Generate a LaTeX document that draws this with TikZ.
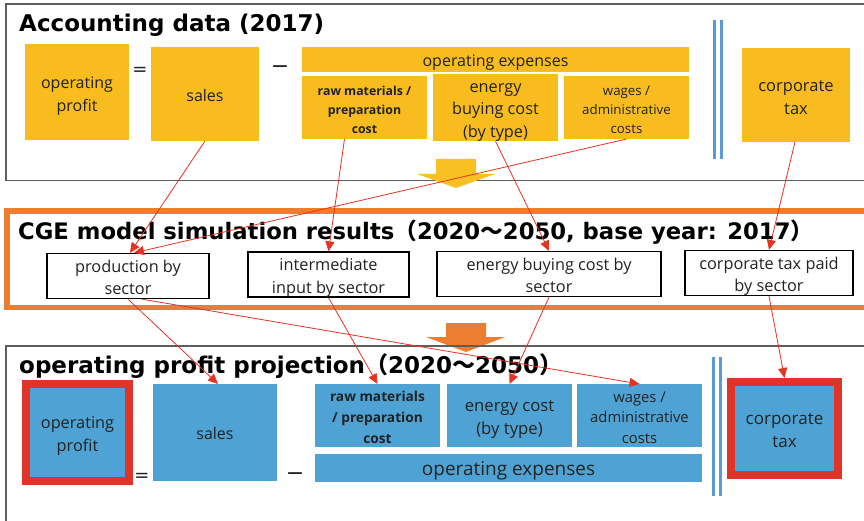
\documentclass[tikz,border=0pt]{standalone}
\usepackage{fontspec}
\setmainfont{Open Sans}
\newfontfamily\titlefont{DejaVu Sans}
\newfontfamily\cjk{Noto Sans CJK JP}
\usetikzlibrary{arrows.meta,calc}
\definecolor{ylw}{HTML}{F8BC1E}
\definecolor{ylwarrow}{HTML}{F9C021}
\definecolor{bl}{HTML}{4FA3D4}
\definecolor{dbl}{HTML}{5B9BD5}
\definecolor{org}{HTML}{ED7D31}
\definecolor{redb}{HTML}{E03428}
\definecolor{redl}{HTML}{E53323}
\definecolor{pgray}{HTML}{5E5E5E}
\definecolor{txt}{HTML}{222222}
\newcommand{\tl}[1]{\raisebox{-3pt}[\height][\depth]{\begin{tabular}{@{}c@{}}#1\end{tabular}}}
\tikzset{
  ybox/.style={fill=ylw, inner sep=0pt, outer sep=0pt, align=center, text=txt},
  wbox/.style={draw=black, line width=1.3pt, fill=white, inner sep=0pt, align=center, text=txt},
  bbox/.style={fill=bl, inner sep=0pt, outer sep=0pt, align=center, text=txt},
  rbox/.style={fill=bl, draw=redb, line width=8pt, inner sep=0pt, align=center, text=txt},
  conn/.style={draw=redl, line width=0.8pt, -{Triangle[length=10pt,width=9pt]}},
  ttl/.style={anchor=base west, inner sep=0pt, text=black, font=\titlefont\bfseries\fontsize{23}{28}\selectfont},
  sym/.style={inner sep=0pt, text=txt, font=\titlefont\fontsize{18}{20}\selectfont},
  panel/.style={draw=pgray, line width=1.3pt},
  dline/.style={draw=dbl, line width=3pt},
}
\begin{document}
\begin{tikzpicture}[x=1pt,y=-1pt]
\useasboundingbox (0,0) rectangle (864,521);
\fill[white] (0,0) rectangle (864,521);

% ---------- panel 1 ----------
\draw[panel] (864,4) -- (6,4) -- (6,180.5) -- (864,180.5);
\node[ttl] (t1) at (19,32) {Accounting data (2017)};

\node[ybox, minimum width=104pt, minimum height=96pt, font=\fontsize{16}{23}\selectfont] (yop) at (77,92) {\tl{operating\\profit}};
\node[sym] (yeq) at (140,71) {=};
\node[ybox, minimum width=108pt, minimum height=94pt, font=\fontsize{16}{22}\selectfont] (ysales) at (205,94) {\tl{sales}};
\node[sym, font=\titlefont\fontsize{22}{24}\selectfont] (ymin) at (280,70) {−};
\node[ybox, minimum width=387pt, minimum height=25pt, font=\fontsize{16}{20}\selectfont] (yopex) at (495.5,59.5) {\tl{operating expenses}};
\node[ybox, minimum width=125pt, minimum height=63pt, font=\bfseries\fontsize{12.3}{19}\selectfont] (yraw) at (364.5,107.5) {\tl{raw materials /\\preparation\\cost}};
\node[ybox, minimum width=125pt, minimum height=63pt, font=\fontsize{16.3}{22.5}\selectfont] (yenergy) at (495.5,107.5) {\tl{energy\\buying cost\\(by type)}};
\node[ybox, minimum width=125pt, minimum height=63pt, font=\fontsize{13.3}{19}\selectfont] (ywages) at (626.5,107.5) {\tl{wages /\\administrative\\costs}};
\draw[dline] (714,20) -- (714,159);
\draw[dline] (721,20) -- (721,159);
\node[ybox, minimum width=108pt, minimum height=94pt, font=\fontsize{16.5}{23}\selectfont] (ytax) at (796,95) {\tl{corporate\\tax}};

% yellow arrow
\fill[ylwarrow] (436,159) -- (476,159) -- (476,174) -- (495,174) -- (456,188) -- (417,174) -- (436,174) -- cycle;

% ---------- panel 2 ----------
\draw[draw=org, line width=5.5pt] (864,211) -- (7,211) -- (7,307.5) -- (864,307.5);
\node[ttl, font=\titlefont\bfseries\fontsize{22.7}{28}\selectfont] (t2) at (18,240) {CGE model simulation results{\cjk\bfseries （}2020{\cjk\bfseries ～}2050, base year: 2017{\cjk\bfseries ）}};

\node[wbox, minimum width=162pt, minimum height=44pt, font=\fontsize{16.3}{22.5}\selectfont] (sprod) at (128,276) {\tl{production by\\sector}};
\node[wbox, minimum width=161pt, minimum height=43pt, font=\fontsize{16.3}{22.5}\selectfont] (sinter) at (328.5,274.5) {\tl{intermediate\\input by sector}};
\node[wbox, minimum width=224pt, minimum height=44pt, font=\fontsize{16.3}{22.5}\selectfont] (senergy) at (549,274) {\tl{energy buying cost by\\sector}};
\node[wbox, minimum width=168pt, minimum height=44pt, font=\fontsize{16.3}{22.5}\selectfont] (stax) at (769,273) {\tl{corporate tax paid\\by sector}};

% orange arrow
\fill[org] (446,323) -- (486,323) -- (486,337) -- (505,337) -- (466,352) -- (426,337) -- (446,337) -- cycle;

% ---------- panel 3 ----------
\draw[panel] (864,346) -- (6,346) -- (6,530);
\node[ttl] (t3) at (19,373) {operating profit projection{\cjk\bfseries （}2020{\cjk\bfseries ～}2050{\cjk\bfseries ）}};

\node[rbox, minimum width=103pt, minimum height=97pt, font=\fontsize{16.3}{23}\selectfont] (bop) at (77.5,432.5) {\tl{operating\\profit}};
\node[sym] (beq) at (142,477) {=};
\node[bbox, minimum width=124pt, minimum height=97pt, font=\fontsize{16}{22}\selectfont] (bsales) at (215,432.5) {\tl{sales}};
\node[sym, font=\titlefont\fontsize{22}{24}\selectfont] (bmin) at (295,477) {−};
\node[bbox, minimum width=125pt, minimum height=63pt, font=\bfseries\fontsize{13.7}{21}\selectfont] (braw) at (377.5,415.5) {\tl{raw materials\\/ preparation\\cost}};
\node[bbox, minimum width=125pt, minimum height=63pt, font=\fontsize{16.7}{22.5}\selectfont] (benergy) at (509.5,415.5) {\tl{energy cost\\(by type)}};
\node[bbox, minimum width=125pt, minimum height=63pt, font=\fontsize{14.8}{20.5}\selectfont] (bwages) at (639.5,415.5) {\tl{wages /\\administrative\\costs}};
\node[bbox, minimum width=387pt, minimum height=28pt, font=\fontsize{19}{23}\selectfont] (bopex) at (508.5,468) {\tl{operating expenses}};
\draw[dline] (713.5,357) -- (713.5,496);
\draw[dline] (720.5,357) -- (720.5,496);
\node[rbox, minimum width=107pt, minimum height=93pt, font=\fontsize{17}{23}\selectfont] (btax) at (784.5,428.5) {\tl{corporate\\tax}};

% ---------- connectors ----------
\draw[conn] (ysales.south) -- ($(sprod.north)+(2,0)$);
\draw[conn] (ywages.south) -- ($(sprod.north)+(6,0)$);
\draw[conn] ($(yraw.south)+(-20,0)$) -- (sinter.north);
\draw[conn] (yenergy.south) -- (senergy.north);
\draw[conn] ($(ytax.south)+(-1,0)$) -- (stax.north);
\draw[conn] (sprod.south) -- ($(bsales.north)+(3,0)$);
\draw[conn] ($(sprod.south)+(14,0)$) -- (bwages.north);
\draw[conn] (sinter.south) -- (braw.north);
\draw[conn] (senergy.south) -- (benergy.north);
\draw[conn] (stax.south) -- (btax.north);
\end{tikzpicture}
\end{document}
